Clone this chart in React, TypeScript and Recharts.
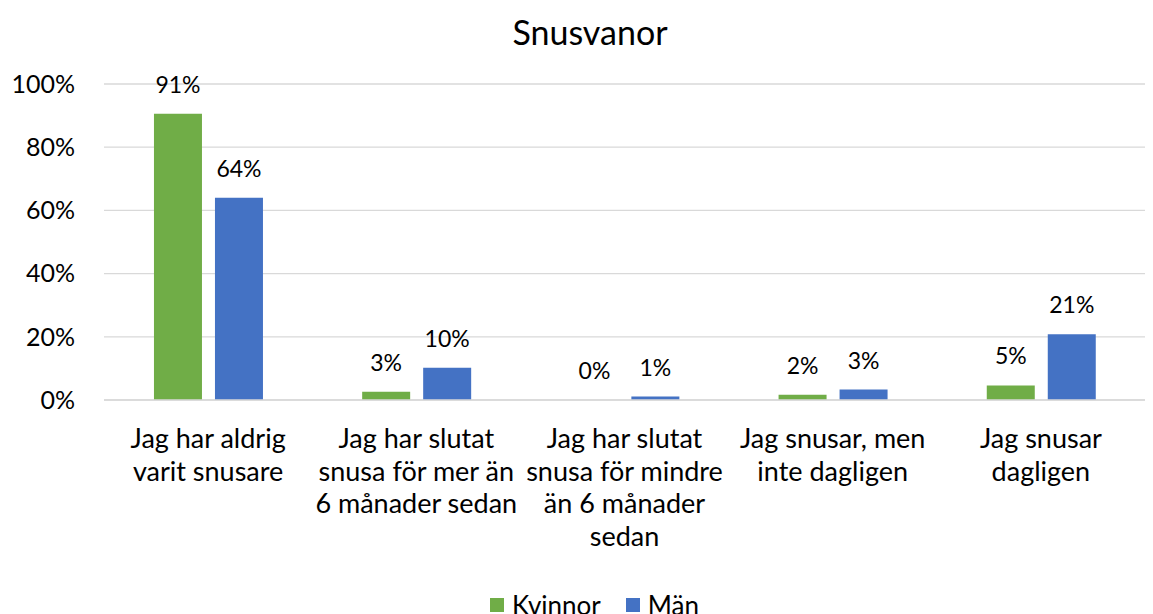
import { ComposedChart, Bar, Line, XAxis, YAxis, CartesianGrid, Legend } from "recharts";

const FONT = "Lato, 'Open Sans', sans-serif";

const categories = [
  "Jag har aldrig\nvarit snusare",
  "Jag har slutat\nsnusa för mer än\n6 månader sedan",
  "Jag har slutat\nsnusa för mindre\nän 6 månader\nsedan",
  "Jag snusar, men\ninte dagligen",
  "Jag snusar\ndagligen",
];
const kvinnor = [90.6, 2.6, 0, 1.7, 4.6];
const man = [64.0, 10.2, 1.1, 3.3, 20.8];
const yTicks = [0, 20, 40, 60, 80, 100];

const GREEN = "#70AD47";
const BLUE = "#4472C4";

const BAR_GAP = 13;
const BAR_CATEGORY_GAP = "24%";

const data = categories.map((name, i) => ({ name, Kvinnor: kvinnor[i], Män: man[i] }));

const pct = (v: any) => `${Math.round(Number(v))}%`;

function CategoryTick(props: any) {
  const { x, y, payload } = props;
  const lines = String(payload.value).split("\n");
  return (
    <text x={x} y={y} textAnchor="middle" fill="#000" fontSize={27} fontFamily={FONT}>
      {lines.map((line, i) => (
        <tspan key={i} x={x} dy={i === 0 ? 40 : 32.5}>
          {line}
        </tspan>
      ))}
    </text>
  );
}

function valueText(cx: number, top: number, value: any) {
  return (
    <text x={cx} y={top - 21} textAnchor="middle" fill="#000" fontSize={23} fontFamily={FONT}>
      {pct(value)}
    </text>
  );
}

// label above a bar
function ValueLabel(props: any) {
  const { x, y, width, value } = props;
  if (value === undefined || value === null) return null;
  return valueText(Number(x) + Number(width) / 2, Number(y), value);
}

// recharts skips zero-height bars, so their labels come from a hidden line
function ZeroLabel(props: any) {
  const { x, y, value, shift } = props;
  if (value !== 0) return null;
  return valueText(Number(x) + shift, Number(y), value);
}

function LegendContent() {
  const items = [
    { name: "Kvinnor", color: GREEN },
    { name: "Män", color: BLUE },
  ];
  return (
    <div
      style={{
        display: "flex",
        justifyContent: "center",
        gap: 25,
        paddingLeft: 44,
        fontFamily: FONT,
        fontSize: 26,
        color: "#000",
        lineHeight: "30px",
      }}
    >
      {items.map((it) => (
        <div key={it.name} style={{ display: "flex", alignItems: "center", gap: 8 }}>
          <span style={{ width: 14, height: 14, background: it.color, display: "inline-block" }} />
          <span>{it.name}</span>
        </div>
      ))}
    </div>
  );
}

export default function App() {
  return (
    <div style={{ position: "absolute", left: 0, top: 0, width: 1153, height: 614, background: "#fff", overflow: "hidden" }}>
      <div
        style={{
          position: "absolute",
          top: 12,
          left: 0,
          width: 1180,
          textAlign: "center",
          fontFamily: FONT,
          fontSize: 34,
          lineHeight: "40px",
          color: "#000",
        }}
      >
        Snusvanor
      </div>
      <ComposedChart
        width={1153}
        height={614}
        data={data}
        margin={{ top: 84, right: 8, left: 0, bottom: 0 }}
        barGap={BAR_GAP}
        barCategoryGap={BAR_CATEGORY_GAP}
      >
        <CartesianGrid vertical={false} stroke="#D9D9D9" strokeWidth={1.3} />
        <XAxis
          dataKey="name"
          interval={0}
          tickLine={false}
          axisLine={{ stroke: "#D9D9D9", strokeWidth: 1.3 }}
          tick={<CategoryTick />}
          height={184}
        />
        <YAxis
          width={104}
          domain={[0, 100]}
          ticks={yTicks}
          tickFormatter={pct}
          tickLine={false}
          axisLine={false}
          tickMargin={23}
          tick={{ fill: "#000", fontSize: 25, fontFamily: FONT }}
        />
        <Legend
          verticalAlign="bottom"
          height={30}
          content={<LegendContent />}
          wrapperStyle={{ bottom: -6 }}
        />
        <Bar dataKey="Kvinnor" fill={GREEN} isAnimationActive={false} label={<ValueLabel />} />
        <Bar dataKey="Män" fill={BLUE} isAnimationActive={false} label={<ValueLabel />} />
        <Line
          dataKey="Kvinnor"
          stroke="none"
          dot={false}
          activeDot={false}
          legendType="none"
          isAnimationActive={false}
          label={<ZeroLabel shift={-30} />}
        />
        <Line
          dataKey="Män"
          stroke="none"
          dot={false}
          activeDot={false}
          legendType="none"
          isAnimationActive={false}
          label={<ZeroLabel shift={30} />}
        />
      </ComposedChart>
    </div>
  );
}
